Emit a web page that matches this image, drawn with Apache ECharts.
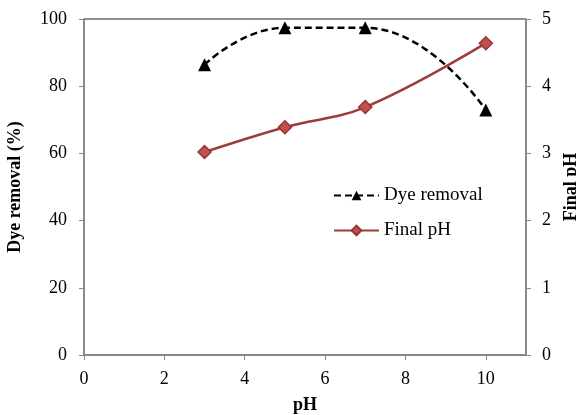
<!DOCTYPE html>
<html>
<head>
<meta charset="utf-8">
<script src="https://cdn.jsdelivr.net/npm/echarts@6/dist/echarts.min.js"></script>
<style>
  html, body { margin: 0; padding: 0; background: #fff; }
  #chart { width: 576px; height: 415px; }
</style>
</head>
<body>
<div id="chart"></div>
<script>
// initial pH values
const ph = [3, 5, 7, 10]
// dye removal (%)
const dyeRemoval = [86.4, 97.4, 97.4, 72.9]
// final pH
const finalPh = [3.02, 3.39, 3.69, 4.64]

const font = 'Liberation Serif'
const axisColor = '#888'

const chart = echarts.init(document.getElementById('chart'))
chart.setOption({
  animation: false,
  grid: {
    left: 84, right: 50, top: 19, bottom: 60,
    outerBoundsMode: 'none',
    show: true, borderColor: '#222', borderWidth: 1
  },
  legend: {
    orient: 'vertical',
    left: 328,
    top: 181,
    itemGap: 16,
    itemWidth: 45,
    itemHeight: 12,
    textStyle: { fontFamily: font, fontSize: 19, color: '#000' },
    data: ['Dye removal', 'Final pH']
  },
  xAxis: {
    type: 'value',
    min: 0, max: 11, interval: 2,
    name: 'pH',
    nameLocation: 'middle',
    nameGap: 41,
    nameTextStyle: { fontFamily: font, fontSize: 18, fontWeight: 'bold', color: '#000' },
    axisLine: { lineStyle: { color: axisColor, width: 1.5 } },
    axisTick: { show: true, length: 5, lineStyle: { color: axisColor } },
    axisLabel: { showMaxLabel: false, fontFamily: font, fontSize: 18, color: '#000', margin: 15 },
    splitLine: { show: false }
  },
  yAxis: [
    {
      type: 'value',
      min: 0, max: 100, interval: 20,
      name: 'Dye removal (%)',
      nameLocation: 'middle',
      nameGap: 60,
      nameRotate: 90,
      nameTextStyle: { fontFamily: font, fontSize: 18, fontWeight: 'bold', color: '#000' },
      axisLine: { show: true, lineStyle: { color: axisColor, width: 1.5 } },
      axisTick: { show: true, length: 5, lineStyle: { color: axisColor } },
      axisLabel: { fontFamily: font, fontSize: 18, color: '#000', margin: 17 },
      splitLine: { show: false }
    },
    {
      type: 'value',
      min: 0, max: 5, interval: 1,
      position: 'right',
      name: 'Final pH',
      nameLocation: 'middle',
      nameGap: 36,
      nameRotate: 90,
      nameTextStyle: { fontFamily: font, fontSize: 18, fontWeight: 'bold', color: '#000' },
      axisLine: { show: true, lineStyle: { color: axisColor, width: 1.5 } },
      axisTick: { show: true, length: 5, lineStyle: { color: axisColor } },
      axisLabel: { fontFamily: font, fontSize: 18, color: '#000', margin: 16 },
      splitLine: { show: false }
    }
  ],
  series: [
    {
      name: 'Dye removal',
      type: 'line',
      yAxisIndex: 0,
      smooth: 0.5,
      clip: false,
      data: ph.map((x, i) => [x, dyeRemoval[i]]),
      symbol: 'triangle',
      symbolSize: 13,
      itemStyle: { color: '#000' },
      lineStyle: { color: '#000', width: 2.5, type: [7, 4] }
    },
    {
      name: 'Final pH',
      type: 'line',
      yAxisIndex: 1,
      smooth: 0.4,
      clip: false,
      data: ph.map((x, i) => [x, finalPh[i]]),
      symbol: 'diamond',
      symbolSize: 13,
      itemStyle: { color: '#c0504d', borderColor: '#963634', borderWidth: 1.5 },
      lineStyle: { color: '#9c3d3a', width: 2.5 }
    }
  ]
})
</script>
</body>
</html>
